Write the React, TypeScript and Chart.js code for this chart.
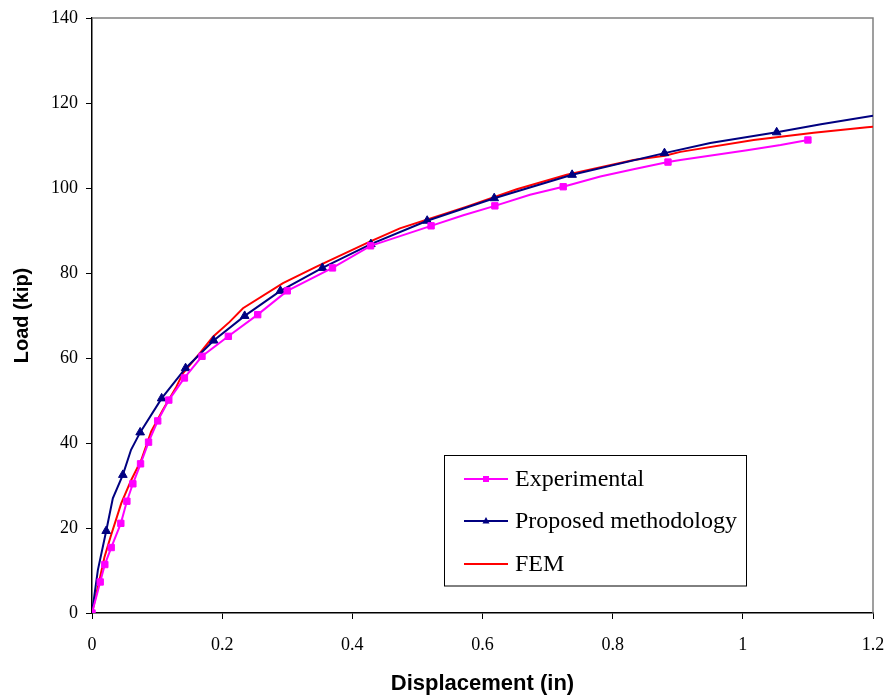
import React, { useEffect, useRef } from "react";
import { Chart, registerables } from "chart.js";

Chart.register(...registerables);

// Experimental load–displacement readings (square markers where flagged)
const expDisp = [0, 0.0126, 0.0197, 0.0295, 0.0443, 0.0536, 0.0628, 0.0746, 0.0869, 0.101, 0.118, 0.142, 0.169, 0.2095, 0.2546, 0.3, 0.3695, 0.428, 0.521, 0.5705, 0.619, 0.673, 0.724, 0.781, 0.832, 0.885, 0.904, 1.0065, 1.058, 1.1];
const expLoad = [0, 7.3, 11.4, 15.4, 21.1, 26.3, 30.4, 35.1, 40.2, 45.2, 50.1, 55.3, 60.4, 65.1, 70.2, 75.8, 81.2, 86.4, 91.1, 93.6, 95.8, 98.4, 100.3, 102.7, 104.4, 106.1, 106.6, 108.9, 110.1, 111.3];
const expMarked = [1, 1, 1, 1, 1, 1, 1, 1, 1, 1, 1, 1, 1, 1, 1, 1, 1, 1, 1, 0, 1, 0, 1, 0, 0, 1, 0, 0, 0, 1];

// Proposed methodology curve (triangle markers where flagged)
const propDisp = [0, 0.009, 0.0218, 0.032, 0.0474, 0.06, 0.074, 0.107, 0.1438, 0.187, 0.2346, 0.2895, 0.354, 0.4285, 0.515, 0.618, 0.7377, 0.8796, 0.95, 1.052, 1.12, 1.2];
const propLoad = [0, 10.1, 19.3, 27, 32.5, 38.4, 42.5, 50.5, 57.6, 64.1, 69.9, 75.8, 81.2, 86.8, 92.3, 97.6, 103.1, 108.2, 110.6, 113.1, 115.0, 117.0];
const propMarked = [1, 0, 1, 0, 1, 0, 1, 1, 1, 1, 1, 1, 1, 1, 1, 1, 1, 1, 0, 1, 0, 0];

// Finite element model curve (no markers)
const femDisp = [0, 0.0115, 0.0192, 0.0295, 0.0449, 0.0603, 0.0757, 0.091, 0.109, 0.1295, 0.1397, 0.1654, 0.1859, 0.2115, 0.232, 0.2935, 0.345, 0.427, 0.473, 0.5757, 0.6526, 0.7295, 0.832, 0.88, 0.904, 1.0166, 1.109, 1.191, 1.2];
const femLoad = [0, 7.8, 13.2, 18.4, 25.8, 31.3, 36, 42.7, 47.8, 53.2, 56.4, 61.1, 65.0, 68.5, 71.7, 77.6, 81.5, 87.4, 90.5, 95.6, 99.7, 103.1, 106.6, 107.6, 108.5, 111.3, 113.0, 114.3, 114.4];

const seriesNames = ["Experimental", "Proposed methodology", "FEM"];
const seriesColors = ["#FF00FF", "#000080", "#FF0000"];

const xTickValues = [0, 0.2, 0.4, 0.6, 0.8, 1, 1.2];
const xTickLabels = ["0", "0.2", "0.4", "0.6", "0.8", "1", "1.2"];
const yTickValues = [0, 20, 40, 60, 80, 100, 120, 140];
const yTickLabels = ["0", "20", "40", "60", "80", "100", "120", "140"];

const xTitle = "Displacement (in)";
const yTitle = "Load (kip)";

const zip = (xs: number[], ys: number[]) => xs.map((x, i) => ({ x, y: ys[i] }));

// Gray frame along the top and right of the plot area
const framePlugin = {
  id: "frame",
  beforeDatasetsDraw(chart: any) {
    const { ctx, chartArea } = chart;
    ctx.save();
    ctx.strokeStyle = "#808080";
    ctx.lineWidth = 1.5;
    ctx.beginPath();
    ctx.moveTo(chartArea.left, chartArea.top);
    ctx.lineTo(chartArea.right, chartArea.top);
    ctx.lineTo(chartArea.right, chartArea.bottom);
    ctx.stroke();
    ctx.restore();
  },
};

// Boxed legend inside the plot area
const boxLegendPlugin = {
  id: "boxLegend",
  afterDraw(chart: any) {
    const { ctx } = chart;
    const left = 444.5;
    const top = 455.5;
    const right = 746.5;
    const bottom = 586;
    ctx.save();
    ctx.fillStyle = "#ffffff";
    ctx.fillRect(left, top, right - left, bottom - top);
    ctx.strokeStyle = "#000000";
    ctx.lineWidth = 1;
    ctx.strokeRect(left, top, right - left, bottom - top);
    const rows = [479, 521, 564];
    const markers = ["rect", "triangle", null];
    chart.data.datasets.forEach((ds: any, i: number) => {
      const y = rows[i];
      ctx.strokeStyle = ds.borderColor;
      ctx.lineWidth = 2;
      ctx.beginPath();
      ctx.moveTo(464, y);
      ctx.lineTo(508, y);
      ctx.stroke();
      ctx.fillStyle = ds.borderColor;
      if (markers[i] === "rect") {
        ctx.fillRect(483, y - 3, 6, 6);
      } else if (markers[i] === "triangle") {
        ctx.beginPath();
        ctx.moveTo(486, y - 4);
        ctx.lineTo(489.5, y + 2.5);
        ctx.lineTo(482.5, y + 2.5);
        ctx.closePath();
        ctx.fill();
      }
      ctx.fillStyle = "#000000";
      ctx.font = "24px 'Liberation Serif', 'Times New Roman', serif";
      ctx.textBaseline = "middle";
      ctx.textAlign = "left";
      ctx.fillText(ds.label, 515, y + 1);
    });
    ctx.restore();
  },
};

export default function App() {
  const canvasRef = useRef<HTMLCanvasElement>(null);

  useEffect(() => {
    if (!canvasRef.current) return;
    const tickFont = { family: "'Liberation Serif', 'Times New Roman', serif", size: 18 };
    const xTitleFont = { family: "'Liberation Sans', Arial, sans-serif", size: 22, weight: "bold" as const };
    const yTitleFont = { family: "'Liberation Sans', Arial, sans-serif", size: 20, weight: "bold" as const };
    const chart = new Chart(canvasRef.current, {
      type: "line",
      data: {
        datasets: [
          {
            label: seriesNames[0],
            data: zip(expDisp, expLoad),
            borderColor: seriesColors[0],
            backgroundColor: seriesColors[0],
            borderWidth: 2,
            pointStyle: "rect",
            pointRadius: (c: any) => (expMarked[c.dataIndex] ? 4.5 : 0),
            pointBorderWidth: 1,
            tension: 0,
          },
          {
            label: seriesNames[1],
            data: zip(propDisp, propLoad),
            borderColor: seriesColors[1],
            backgroundColor: seriesColors[1],
            borderWidth: 2,
            pointStyle: "triangle",
            pointRadius: (c: any) => (propMarked[c.dataIndex] ? 5 : 0),
            pointBorderWidth: 1,
            tension: 0,
          },
          {
            label: seriesNames[2],
            data: zip(femDisp, femLoad),
            borderColor: seriesColors[2],
            backgroundColor: seriesColors[2],
            borderWidth: 2,
            pointRadius: 0,
            tension: 0,
          },
        ],
      },
      options: {
        responsive: false,
        animation: false,
        events: [],
        layout: { padding: { top: 18, right: 15, bottom: 0, left: 0 } },
        plugins: {
          legend: { display: false },
          tooltip: { enabled: false },
        },
        scales: {
          x: {
            type: "linear",
            min: 0,
            max: 1.2,
            afterBuildTicks: (s: any) => {
              s.ticks = xTickValues.map((v) => ({ value: v }));
            },
            afterFit: (s: any) => {
              s.height = 82;
              s.paddingLeft = 0;
              s.paddingRight = 0;
            },
            ticks: {
              font: tickFont,
              color: "#000",
              padding: 15,
              maxRotation: 0,
              callback: (_v: any, i: number) => xTickLabels[i],
            },
            grid: { drawOnChartArea: false, drawTicks: true, tickLength: 6, color: "#000" },
            border: { display: true, color: "#000", width: 1.5 },
            title: { display: true, text: xTitle, font: xTitleFont, color: "#000", padding: { top: 0, bottom: -2 } },
          },
          y: {
            type: "linear",
            min: 0,
            max: 140,
            afterBuildTicks: (s: any) => {
              s.ticks = yTickValues.map((v) => ({ value: v }));
            },
            afterFit: (s: any) => {
              s.width = 92;
              s.paddingTop = 0;
              s.paddingBottom = 0;
            },
            ticks: {
              font: tickFont,
              color: "#000",
              padding: 8,
              callback: (_v: any, i: number) => yTickLabels[i],
            },
            grid: { drawOnChartArea: false, drawTicks: true, tickLength: 6, color: "#000" },
            border: { display: true, color: "#000", width: 1.5 },
            title: { display: true, text: yTitle, font: yTitleFont, color: "#000", padding: { top: 10, bottom: 0 } },
          },
        },
      },
      plugins: [framePlugin, boxLegendPlugin],
    } as any);
    return () => chart.destroy();
  }, []);

  return (
    <div style={{ position: "absolute", left: 0, top: 0, width: 888, height: 695, background: "#fff" }}>
      <canvas ref={canvasRef} width={888} height={695} />
    </div>
  );
}
